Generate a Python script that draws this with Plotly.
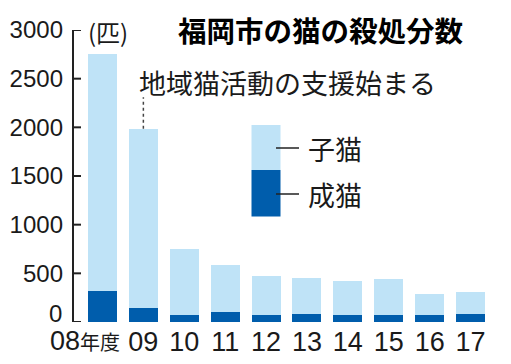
import plotly.graph_objects as go

years = ["08", "09", "10", "11", "12", "13", "14", "15", "16", "17"]
first_label_suffix = "年度"
adult = [320, 140, 77, 105, 67, 84, 77, 77, 67, 84]
total = [2750, 1985, 751, 590, 470, 449, 426, 446, 289, 310]
kitten = [t - a for t, a in zip(total, adult)]
y_ticks = [0, 500, 1000, 1500, 2000, 2500, 3000]

title = "福岡市の猫の殺処分数"
unit = "(匹)"
note = "地域猫活動の支援始まる"
note_index = 1
series_names = ["子猫", "成猫"]

LIGHT = "#bfe3f7"
DARK = "#005dac"
INK = "#1a1a1a"
AXIS = "#222222"

W, H = 511, 364
L, R, T, B = 72, 20, 30, 42
PW, PH = W - L - R, H - T - B
X_RANGE = [-0.745, len(years) - 0.5]


def px(x):
    return (x - L) / PW


def py(y):
    return (H - B - y) / PH


xs = list(range(len(years)))

fig = go.Figure()
fig.add_bar(x=xs, y=adult, marker=dict(color=DARK, line=dict(width=0)), name=series_names[1])
fig.add_bar(x=xs, y=kitten, marker=dict(color=LIGHT, line=dict(width=0)), name=series_names[0])

# y axis line with inside ticks, drawn as an unclipped line trace
x_axis_pos = X_RANGE[0] + 1.0 * (X_RANGE[1] - X_RANGE[0]) / PW
tick_end = X_RANGE[0] + 9.0 * (X_RANGE[1] - X_RANGE[0]) / PW
ax_x, ax_y = [x_axis_pos, x_axis_pos], [y_ticks[0], y_ticks[-1]]
for v in y_ticks:
    ax_x += [None, x_axis_pos, tick_end]
    ax_y += [None, v, v]
fig.add_scatter(x=ax_x, y=ax_y, mode="lines", line=dict(color=AXIS, width=2),
                cliponaxis=False, hoverinfo="skip", showlegend=False)

font_num = "Liberation Sans, Arial, sans-serif"
font_jp = "Noto Sans CJK JP, sans-serif"

fig.update_layout(
    width=W, height=H,
    margin=dict(l=L, r=R, t=T, b=B, pad=0, autoexpand=False),
    barmode="stack", bargap=0.29,
    showlegend=False,
    plot_bgcolor="white", paper_bgcolor="white",
    xaxis=dict(
        range=X_RANGE,
        tickvals=xs,
        ticktext=[""] + years[1:],
        showline=False, showgrid=False, zeroline=False, ticks="",
        tickfont=dict(family=font_num, size=27, color=INK),
        ticklabelstandoff=1, automargin=False,
    ),
    yaxis=dict(
        range=[y_ticks[0], y_ticks[-1]],
        tickvals=y_ticks,
        ticktext=[""] + [str(v) for v in y_ticks[1:]],
        showline=False, ticks="",
        showgrid=False, zeroline=False,
        tickfont=dict(family=font_num, size=24, color=INK),
        ticklabelstandoff=8, automargin=False,
    ),
)

ann = []
# y zero label (lifted above the x labels)
ann.append(dict(x=px(64), y=py(313), xref="paper", yref="paper", text=str(y_ticks[0]),
                xanchor="right", yanchor="middle", showarrow=False,
                font=dict(family=font_num, size=24, color=INK)))
# first x label
ann.append(dict(x=px(48), y=py(341), xref="paper", yref="paper",
                text=years[0] + f"<span style='font-family:Noto Sans CJK JP;font-size:20px'>{first_label_suffix}</span>",
                xanchor="left", yanchor="middle", showarrow=False,
                font=dict(family=font_num, size=27, color=INK)))
# title
ann.append(dict(x=px(320.5), y=py(29), xref="paper", yref="paper", text=f"<b>{title}</b>",
                xanchor="center", yanchor="middle", showarrow=False,
                font=dict(family=font_jp, size=28.5, color="#000000")))
# unit
ann.append(dict(x=px(108), y=py(31), xref="paper", yref="paper", text=unit,
                xanchor="center", yanchor="middle", showarrow=False,
                font=dict(family=font_jp, size=24, color=INK)))
# note
ann.append(dict(x=px(137), y=py(83), xref="paper", yref="paper", text=note,
                xanchor="left", yanchor="middle", showarrow=False,
                font=dict(family=font_jp, size=27, color=INK)))
# legend labels
ann.append(dict(x=px(306), y=py(148), xref="paper", yref="paper", text=series_names[0],
                xanchor="left", yanchor="middle", showarrow=False,
                font=dict(family=font_jp, size=27, color=INK)))
ann.append(dict(x=px(306), y=py(194), xref="paper", yref="paper", text=series_names[1],
                xanchor="left", yanchor="middle", showarrow=False,
                font=dict(family=font_jp, size=27, color=INK)))
fig.update_layout(annotations=ann)

shapes = []
# dotted leader line to the 09 bar
shapes.append(dict(type="line", xref="x", yref="y", x0=xs[note_index], x1=xs[note_index],
                   y0=total[note_index], y1=2310,
                   line=dict(color="#444444", width=1.5, dash="dot")))
# custom legend boxes
shapes.append(dict(type="rect", xref="paper", yref="paper", x0=px(251.5), x1=px(280.5),
                   y0=py(170), y1=py(125), fillcolor=LIGHT, line=dict(width=0)))
shapes.append(dict(type="rect", xref="paper", yref="paper", x0=px(251.5), x1=px(280.5),
                   y0=py(216.5), y1=py(170), fillcolor=DARK, line=dict(width=0)))
shapes.append(dict(type="line", xref="paper", yref="paper", x0=px(276), x1=px(299),
                   y0=py(148), y1=py(148), line=dict(color=AXIS, width=1.5)))
shapes.append(dict(type="line", xref="paper", yref="paper", x0=px(276), x1=px(299),
                   y0=py(194), y1=py(194), line=dict(color=AXIS, width=1.5)))
fig.update_layout(shapes=shapes)

fig.write_html("out.html", config={"displayModeBar": False},
               post_script="document.body.style.margin='0';")
